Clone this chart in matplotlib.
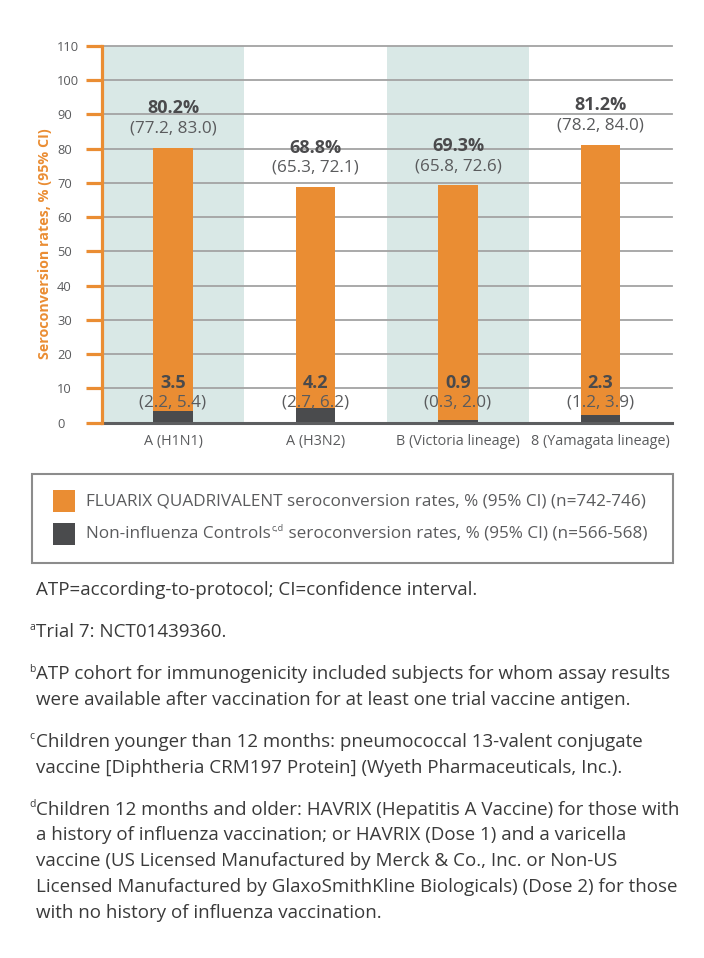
import matplotlib
matplotlib.use("Agg")
import matplotlib.pyplot as plt
from matplotlib.patches import Rectangle

# ---------------- data ----------------
categories = ["A (H1N1)", "A (H3N2)", "B (Victoria lineage)", "8 (Yamagata lineage)"]
fluarix = [80.2, 68.8, 69.3, 81.2]
fluarix_ci = ["(77.2, 83.0)", "(65.3, 72.1)", "(65.8, 72.6)", "(78.2, 84.0)"]
controls = [3.5, 4.2, 0.9, 2.3]
controls_ci = ["(2.2, 5.4)", "(2.7, 6.2)", "(0.3, 2.0)", "(1.2, 3.9)"]
yticks = list(range(0, 111, 10))
y_label = "Seroconversion rates, % (95% CI)"
legend_fluarix = "FLUARIX QUADRIVALENT seroconversion rates, % (95% CI) (n=742-746)"
legend_ctrl_main = "Non-influenza Controls"
legend_ctrl_sup = "c,d"
legend_ctrl_rest = " seroconversion rates, % (95% CI) (n=566-568)"
footnotes = [
    ("", ["ATP=according-to-protocol; CI=confidence interval."]),
    ("a", ["Trial 7: NCT01439360."]),
    ("b", ["ATP cohort for immunogenicity included subjects for whom assay results",
           "were available after vaccination for at least one trial vaccine antigen."]),
    ("c", ["Children younger than 12 months: pneumococcal 13-valent conjugate",
           "vaccine [Diphtheria CRM197 Protein] (Wyeth Pharmaceuticals, Inc.)."]),
    ("d", ["Children 12 months and older: HAVRIX (Hepatitis A Vaccine) for those with",
           "a history of influenza vaccination; or HAVRIX (Dose 1) and a varicella",
           "vaccine (US Licensed Manufactured by Merck & Co., Inc. or Non-US",
           "Licensed Manufactured by GlaxoSmithKline Biologicals) (Dose 2) for those",
           "with no history of influenza vaccination."]),
]

# ---------------- style ----------------
FONT = "Open Sans"
plt.rcParams["font.family"] = [FONT, "DejaVu Sans"]
ORANGE = "#ea8d33"
DARK = "#4a4b4d"
BAND = "#d9e8e6"
GRID = "#a3a3a3"
GRAY = "#5a5b5d"
TEXT = "#3a3a3a"

W, H = 704, 958
fig = plt.figure(figsize=(W / 100, H / 100), dpi=100)


def fx(x):
    return x / W


def fy(y):
    return 1 - y / H


ax = fig.add_axes([fx(101.7), fy(422.7), (671.7 - 101.7) / W, (422.7 - 46) / H])
ax.set_xlim(-0.5, len(categories) - 0.5)
ax.set_ylim(0, 110)

xs = list(range(len(categories)))
for i in xs:
    if i % 2 == 0:
        ax.axvspan(i - 0.5, i + 0.5, color=BAND, zorder=0, lw=0)

for y in yticks[1:]:
    ax.axhline(y, color=GRID, lw=1.3, zorder=1, clip_on=False)

bw = 0.276
ax.bar(xs, fluarix, width=bw, color=ORANGE, zorder=2)
ax.bar(xs, controls, width=bw, color=DARK, zorder=3)
ax.axhline(0, color="#5d5e60", lw=2.2, zorder=4, clip_on=False)

for s in ["top", "right", "bottom"]:
    ax.spines[s].set_visible(False)
ax.spines["left"].set_color(ORANGE)
ax.spines["left"].set_linewidth(2.3)
ax.spines["left"].set_zorder(5)

ax.set_yticks(yticks)
ax.set_yticklabels([str(t) for t in yticks])
ax.tick_params(axis="y", length=11.3, width=2.3, color=ORANGE, pad=20.9,
               labelsize=9.3, labelcolor=GRAY)
for lab in ax.get_yticklabels():
    lab.set_ha("left")

ax.set_xticks(xs)
ax.set_xticklabels(categories)
ax.tick_params(axis="x", length=0, pad=8, labelsize=10.4, labelcolor=GRAY)

for i in xs:
    ax.annotate(f"{fluarix[i]:.1f}%", xy=(i, fluarix[i]), xytext=(0, 28.5),
                textcoords="offset points", ha="center", va="center",
                fontsize=13, fontweight="bold", color="#4a4a4c", zorder=6)
    ax.annotate(fluarix_ci[i], xy=(i, fluarix[i]), xytext=(0, 13.8),
                textcoords="offset points", ha="center", va="center",
                fontsize=12.3, color=GRAY, zorder=6)
    ax.annotate(f"{controls[i]:.1f}", xy=(i, 0), xytext=(0, 28.8),
                textcoords="offset points", ha="center", va="center",
                fontsize=13, fontweight="bold", color="#4a4a4c", zorder=6)
    ax.annotate(controls_ci[i], xy=(i, 0), xytext=(0, 14.4),
                textcoords="offset points", ha="center", va="center",
                fontsize=12.3, color=GRAY, zorder=6)

fig.text(fx(45), fy(244), y_label, rotation=90, ha="center", va="center",
         color=ORANGE, fontweight="bold", fontsize=10.3)

# ---------------- legend ----------------
fig.patches.append(Rectangle((fx(32), fy(563)), (673 - 32) / W, (563 - 474.3) / H,
                             fill=False, edgecolor="#8c8c8c", lw=1.5,
                             transform=fig.transFigure))
fig.patches.append(Rectangle((fx(53.3), fy(511.7)), 22 / W, 21.7 / H,
                             facecolor=ORANGE, edgecolor="none", transform=fig.transFigure))
fig.patches.append(Rectangle((fx(53.3), fy(545)), 22 / W, 22 / H,
                             facecolor=DARK, edgecolor="none", transform=fig.transFigure))

LEG_FS = 12.3
fig.text(fx(86), fy(501), legend_fluarix, ha="left", va="center",
         fontsize=LEG_FS, color=GRAY)
renderer = fig.canvas.get_renderer()
t1 = fig.text(fx(86), fy(534), legend_ctrl_main, ha="left", va="center",
              fontsize=LEG_FS, color=GRAY)
x1 = t1.get_window_extent(renderer).x1
t2 = fig.text(x1 / W + fx(1), fy(529), legend_ctrl_sup, ha="left", va="center",
              fontsize=6.5, color=GRAY)
x2 = t2.get_window_extent(renderer).x1
fig.text(x2 / W, fy(534), legend_ctrl_rest, ha="left", va="center",
         fontsize=LEG_FS, color=GRAY)

# ---------------- footnotes ----------------
FN_FS = 13.5
y = 590
for sup, lines in footnotes:
    if sup:
        fig.text(fx(29.5), fy(y - 5), sup, ha="left", va="center", fontsize=7.5, color=TEXT)
    for k, line in enumerate(lines):
        fig.text(fx(35.5), fy(y), line, ha="left", va="center", fontsize=FN_FS, color=TEXT)
        if k < len(lines) - 1:
            y += 25.8
    y += 42

fig.savefig("out.png", dpi=100)
